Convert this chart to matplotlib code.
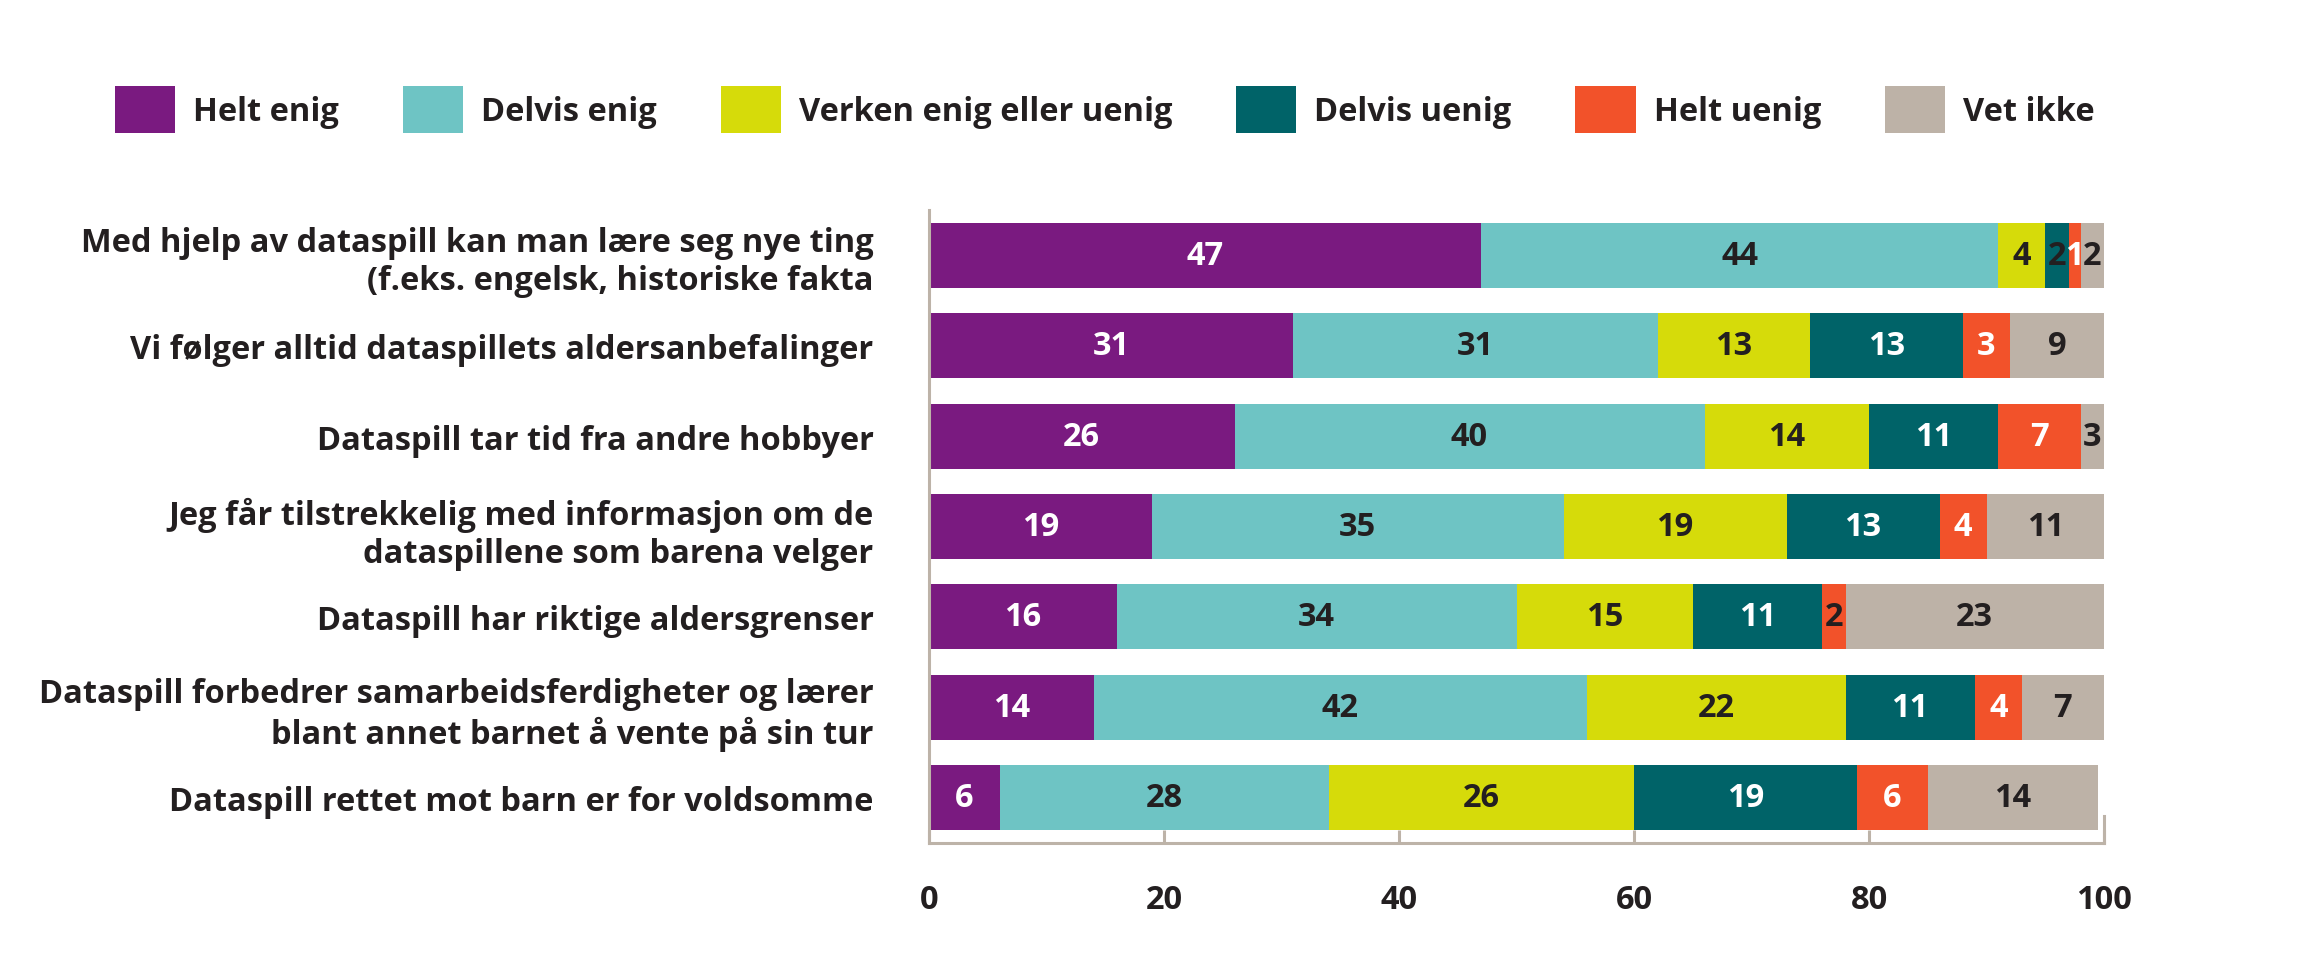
import numpy as np
import matplotlib.pyplot as plt

plt.rcParams['font.family'] = ['Open Sans', 'DejaVu Sans']
plt.rcParams['font.weight'] = 'bold'

statements = [
    "Med hjelp av dataspill kan man lære seg nye ting\n(f.eks. engelsk, historiske fakta",
    "Vi følger alltid dataspillets aldersanbefalinger",
    "Dataspill tar tid fra andre hobbyer",
    "Jeg får tilstrekkelig med informasjon om de\ndataspillene som barena velger",
    "Dataspill har riktige aldersgrenser",
    "Dataspill forbedrer samarbeidsferdigheter og lærer\nblant annet barnet å vente på sin tur",
    "Dataspill rettet mot barn er for voldsomme",
]
answers = ["Helt enig", "Delvis enig", "Verken enig eller uenig",
           "Delvis uenig", "Helt uenig", "Vet ikke"]

# segment widths in percent, as drawn in the chart
helt_enig = [47, 31, 26, 19, 16, 14, 6]
delvis_enig = [44, 31, 40, 35, 34, 42, 28]
verken = [4, 13, 14, 19, 15, 22, 26]
delvis_uenig = [2, 13, 11, 13, 11, 11, 19]
helt_uenig = [1, 4, 7, 4, 2, 4, 6]
vet_ikke = [2, 8.3, 2.5, 10.4, 22.2, 7, 14.5]

# numbers printed on the segments
helt_enig_lbl = [47, 31, 26, 19, 16, 14, 6]
delvis_enig_lbl = [44, 31, 40, 35, 34, 42, 28]
verken_lbl = [4, 13, 14, 19, 15, 22, 26]
delvis_uenig_lbl = [2, 13, 11, 13, 11, 11, 19]
helt_uenig_lbl = [1, 3, 7, 4, 2, 4, 6]
vet_ikke_lbl = [2, 9, 3, 11, 23, 7, 14]

x_ticks = [0, 20, 40, 60, 80, 100]

DARK = "#231F20"
BEIGE = "#BDB3A8"
colors = ["#7A1A80", "#6EC4C4", "#D6DB0A", "#006368", "#F2522A", "#BDB2A7"]
label_colors = ["white", DARK, DARK, "white", "white", DARK]

series = [helt_enig, delvis_enig, verken, delvis_uenig, helt_uenig, vet_ikke]
labels = [helt_enig_lbl, delvis_enig_lbl, verken_lbl,
          delvis_uenig_lbl, helt_uenig_lbl, vet_ikke_lbl]

FS = 23.5

W, H = 2308, 970
fig = plt.figure(figsize=(W / 100, H / 100), dpi=100)
ax = fig.add_axes([929 / W, 1 - 844 / H, 1175 / W, 633 / H])

y = np.arange(len(statements))
left = np.zeros(len(statements))
for name, vals, lbls, col, tcol in zip(answers, series, labels, colors, label_colors):
    vals = np.array(vals, dtype=float)
    bars = ax.barh(y, vals, left=left, height=0.72, color=col, label=name, linewidth=0)
    texts = ax.bar_label(bars, labels=[str(v) for v in lbls], label_type='center',
                         fontsize=FS, fontweight='bold')
    for t, v in zip(texts, lbls):
        # the tiny "2" segments are labelled in dark text
        t.set_color(DARK if v == 2 else tcol)
    left += vals

ax.set_xlim(0, 100)
ax.set_ylim(len(statements) - 0.5, -0.5)
ax.set_xticks(x_ticks)
ax.set_yticks(y, statements)

ax.tick_params(axis='y', length=0, pad=40, labelsize=FS, labelcolor=DARK)
ax.tick_params(axis='x', direction='in', length=9.5, width=2.2, color=BEIGE,
               pad=29, labelsize=FS, labelcolor=DARK)

ax.spines['top'].set_visible(False)
for s in ['left', 'bottom', 'right']:
    ax.spines[s].set_color(BEIGE)
    ax.spines[s].set_linewidth(2.2)
ax.spines['right'].set_bounds(len(statements) - 0.8, len(statements) - 0.5)

fig.legend(loc='upper left', bbox_to_anchor=(115 / W, 1 - 87 / H), ncol=6,
           frameon=False, borderpad=0, borderaxespad=0,
           handlelength=1.85, handleheight=1.85, handletextpad=0.55,
           columnspacing=1.95, prop={'size': FS, 'weight': 'bold'},
           labelcolor=DARK)

fig.savefig("out.png", dpi=100)
